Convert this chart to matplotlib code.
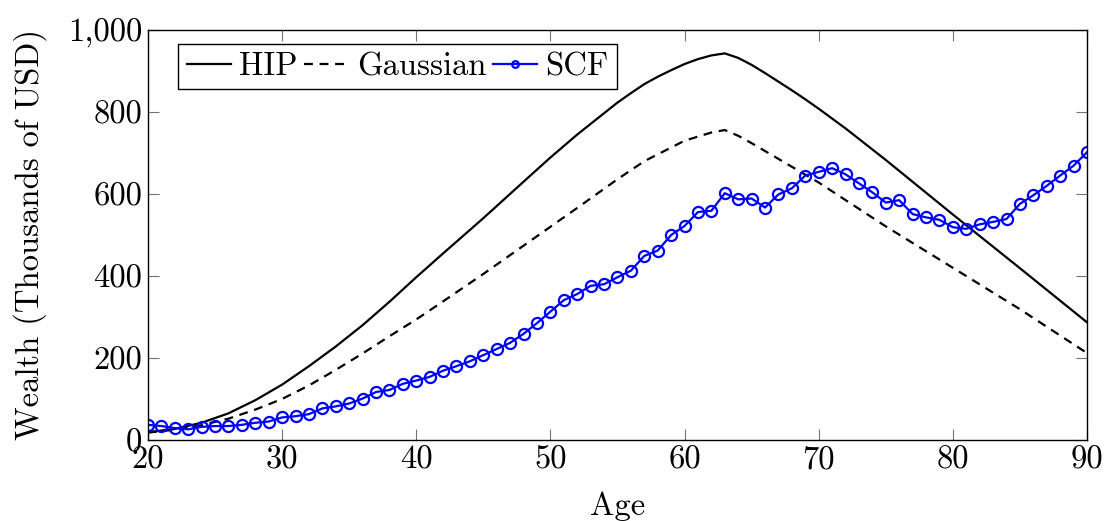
import numpy as np
import matplotlib
matplotlib.use("Agg")
import matplotlib.pyplot as plt
from matplotlib.ticker import FuncFormatter

plt.rcParams['font.family'] = ['cmr10', 'DejaVu Serif']
plt.rcParams['mathtext.fontset'] = 'cm'
plt.rcParams['axes.unicode_minus'] = False

# model curves
hip_age = [20, 22, 24, 26, 28, 30, 32, 34, 36, 38, 40, 42, 45, 48, 50, 52, 55, 56, 57, 58,
           59, 60, 61, 62, 63, 64, 65, 66, 67, 68, 69, 70, 72, 75, 80, 85, 90]
hip = [19, 27, 42, 65, 97, 135, 180, 228, 280, 337, 397, 455, 541, 630, 689, 745, 823, 846, 868, 886,
       902, 917, 929, 938, 943, 932, 915, 895, 874, 853, 831, 808, 760, 683, 550, 419, 287]

gauss_age = [20, 22, 24, 26, 28, 30, 32, 34, 36, 38, 40, 42, 45, 48, 50, 52, 55, 57,
             60, 62, 63, 64, 65, 70, 75, 80, 85, 90]
gauss = [18, 25, 36, 52, 74, 100, 133, 171, 211, 253, 294, 338, 405, 474, 520, 566, 636, 680,
         730, 750, 756, 742, 724, 628, 521, 420, 319, 212]

# SCF data, one point per age
scf_age = list(range(20, 91))
scf = [37, 34, 29, 26, 32, 34, 34, 37, 42, 45,
       55, 58, 63, 77, 82, 89, 101, 117, 122, 137,
       145, 154, 169, 180, 192, 207, 222, 237, 259, 285,
       313, 341, 356, 376, 380, 397, 413, 449, 462, 500,
       522, 556, 559, 602, 587, 589, 567, 599, 614, 645,
       654, 663, 648, 626, 604, 579, 585, 551, 543, 537,
       519, 515, 526, 532, 539, 576, 597, 620, 645, 669,
       702]

fs = 23.5

fig = plt.figure(figsize=(11.04, 5.21), dpi=100)
ax = fig.add_axes([0.134, 0.1555, 0.8506, 0.7869])

ax.plot(hip_age, hip, color='black', lw=1.6, label='HIP')
ax.plot(gauss_age, gauss, color='black', lw=1.6, linestyle=(0, (4, 3)), label='Gaussian')
ax.plot(scf_age, scf, color='blue', lw=1.6, marker='o', markersize=8,
        markerfacecolor='none', markeredgewidth=1.6, label='SCF')

ax.set_xlim(20, 90)
ax.set_ylim(0, 1000)
ax.set_xticks(range(20, 91, 10))
ax.set_yticks(range(0, 1001, 200))
ax.yaxis.set_major_formatter(FuncFormatter(lambda v, p: '{:,.0f}'.format(v)))
ax.tick_params(direction='in', length=8, width=0.8, color='0.45', labelsize=fs,
               top=True, right=True, pad=4)
for s in ax.spines.values():
    s.set_linewidth(1.0)

ax.set_xlabel('Age', fontsize=fs, labelpad=12)
ax.set_ylabel('Wealth (Thousands of USD)', fontsize=fs, labelpad=15)

leg = ax.legend(loc='upper left', ncol=3, fontsize=fs, frameon=True, fancybox=False,
                edgecolor='black', framealpha=1, handlelength=1.35, handletextpad=0.25,
                columnspacing=0.22, markerscale=0.6, borderpad=0.25, borderaxespad=0.3,
                bbox_to_anchor=(0.022, 0.99))
leg.get_frame().set_linewidth(1.0)

fig.savefig('out.png', dpi=100)
